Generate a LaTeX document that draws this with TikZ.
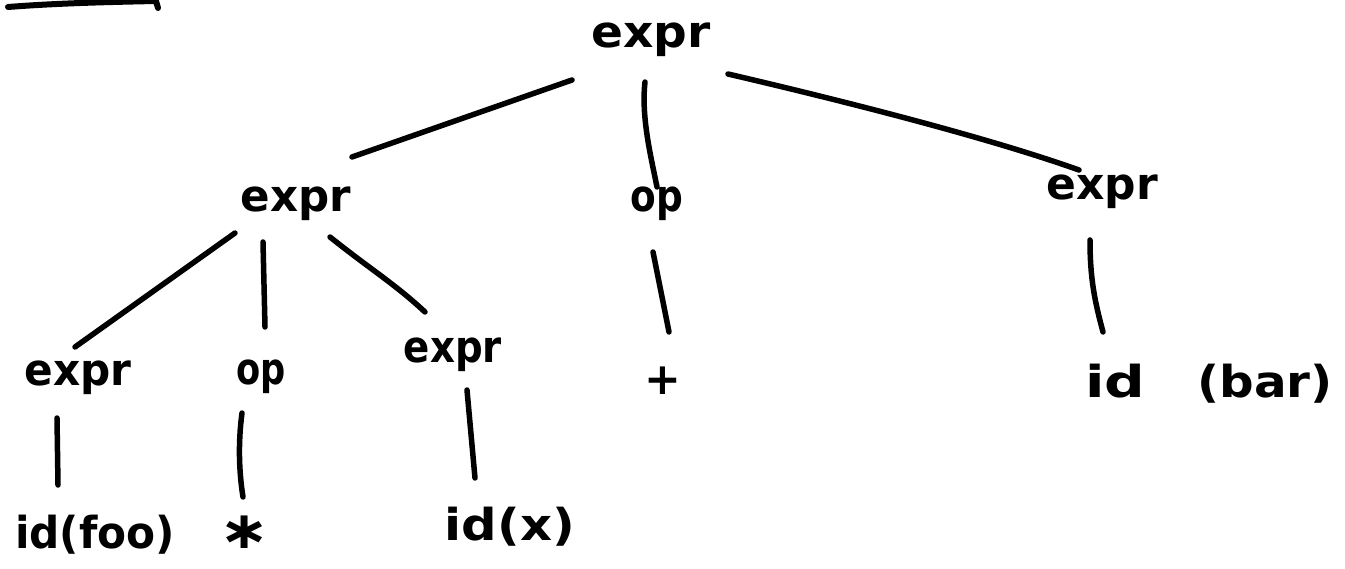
\documentclass[tikz,border=0pt]{standalone}
\usepackage{fontspec}
\setmainfont{DejaVu Sans}
\newcommand\hwtext[2][1.2]{\scalebox{#1}[1]{#2}}
\begin{document}
\begin{tikzpicture}[x=1pt,y=-1pt,
  lbl/.style={inner sep=0pt, anchor=base, font=\fontsize{44}{50}\selectfont\bfseries},
  edge/.style={line width=5.5pt, line cap=round, line join=round}]
\useasboundingbox (0,0) rectangle (1345,569);
\fill[white] (0,0) rectangle (1345,569);

% nodes
\node[lbl] (root) at (651,48)  {\hwtext[1.07]{expr}};
\node[lbl] (l2a)  at (296,212) {\hwtext[0.99]{expr}};
\node[lbl] (l2b)  at (657,212) {\hwtext[0.85]{op}};
\node[lbl] (l2c)  at (1102,200) {\hwtext[1.0]{expr}};
\node[lbl] (l3a)  at (78,386)  {\hwtext[0.96]{expr}};
\node[lbl] (l3b)  at (261,385) {\hwtext[0.8]{op}};
\node[lbl] (l3c)  at (453,363) {\hwtext[0.88]{expr}};
\node[lbl] (l3d)  at (663,395) {\hwtext[1.0]{+}};
\node[lbl] (l3e)  at (1209,398) {\hwtext[1.29]{id}\hspace{52pt}\hwtext[1.1]{(bar)}};
\node[lbl] (l4a)  at (95,548)  {\hwtext[0.96]{id(foo)}};
\node[lbl, font=\fontsize{52}{58}\selectfont\bfseries] (l4b) at (245,548) {\hwtext[1.15]{∗}};
\node[lbl] (l4c)  at (510,540) {\hwtext[1.13]{id(x)}};

% connectors
\draw[edge] ([shift={(-79,32)}]root.base) -- ([shift={(56,-55)}]l2a.base);
\draw[edge] ([shift={(-6,34)}]root.base) .. controls +(-4,35) and +(-6,-30) .. ([shift={(0,-25)}]l2b.base);
\draw[edge] ([shift={(77,26)}]root.base) .. controls +(120,28) and +(-90,-32) .. ([shift={(-23,-30)}]l2c.base);
\draw[edge] ([shift={(-61,21)}]l2a.base) -- ([shift={(-3,-39)}]l3a.base);
\draw[edge] ([shift={(-33,30)}]l2a.base) -- ([shift={(4,-58)}]l3b.base);
\draw[edge] ([shift={(34,25)}]l2a.base) .. controls +(40,32) and +(-30,-28) .. ([shift={(-28,-51)}]l3c.base);
\draw[edge] ([shift={(-4,40)}]l2b.base) -- ([shift={(6,-63)}]l3d.base);
\draw[edge] ([shift={(-12,40)}]l2c.base) .. controls +(0,40) and +(-8,-30) .. ([shift={(-106,-66)}]l3e.base);
\draw[edge] ([shift={(-21,32)}]l3a.base) -- ([shift={(-37,-63)}]l4a.base);
\draw[edge] ([shift={(-19,28)}]l3b.base) .. controls +(-4,30) and +(-4,-25) .. ([shift={(-2,-51)}]l4b.base);
\draw[edge] ([shift={(14,27)}]l3c.base) -- ([shift={(-35,-62)}]l4c.base);

% stray stroke at top left
\draw[edge, line width=6pt] (8,7) .. controls (60,3) and (110,2) .. (156,1) -- (158,8);
\end{tikzpicture}
\end{document}
